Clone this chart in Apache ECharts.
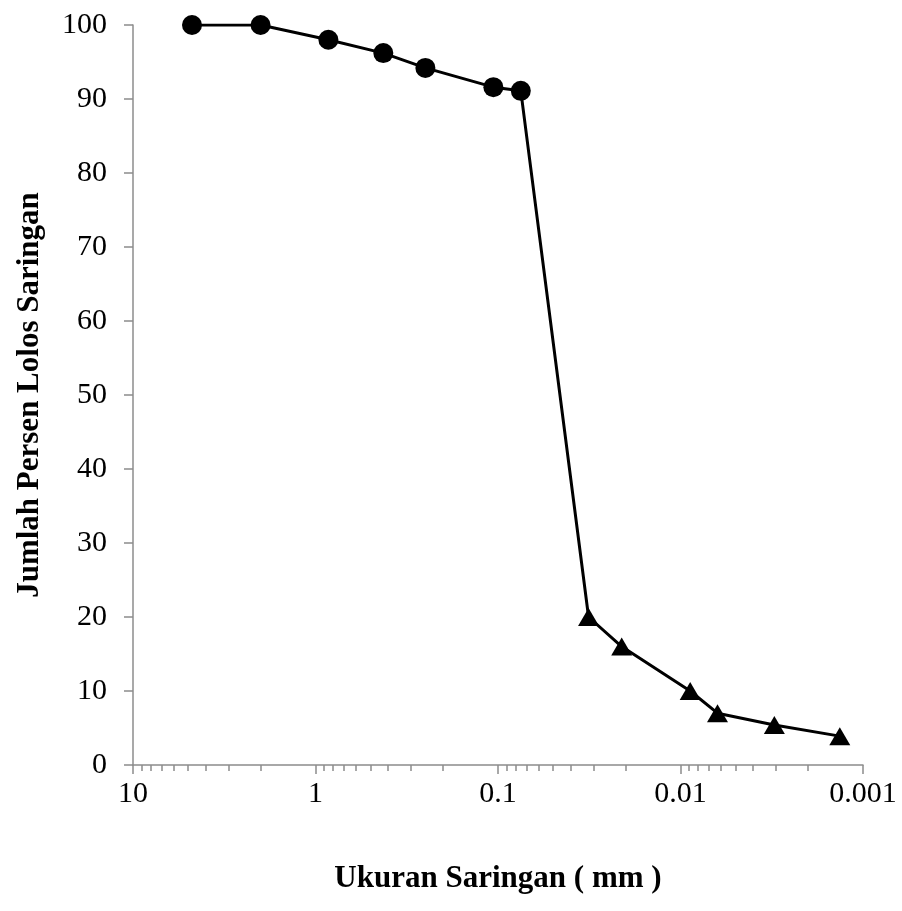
<!DOCTYPE html>
<html>
<head>
<meta charset="utf-8">
<script src="https://cdn.jsdelivr.net/npm/echarts@6/dist/echarts.min.js"></script>
<style>
html,body{margin:0;padding:0;background:#fff;}
#chart{width:902px;height:911px;}
</style>
</head>
<body>
<div id="chart"></div>
<script>
// Sieve analysis (circles)
const sieveSize = [4.75, 2.0, 0.85, 0.425, 0.25, 0.106, 0.075];
const sievePassing = [100, 100, 98, 96.2, 94.2, 91.6, 91.1];
// Hydrometer analysis (triangles)
const hydroSize = [0.0319, 0.0210, 0.00885, 0.00627, 0.00306, 0.00134];
const hydroPassing = [20, 16, 10, 7, 5.4, 3.9];
// Axis ticks
const yTicks = [0, 10, 20, 30, 40, 50, 60, 70, 80, 90, 100];
const xMajor = [10, 1, 0.1, 0.01, 0.001];
const xMinorMultipliers = [2, 3, 4, 5, 6, 7, 8, 9];

const xTitle = 'Ukuran Saringan ( mm )';
const yTitle = 'Jumlah Persen Lolos Saringan';

const serif = '"Liberation Serif", "Times New Roman", serif';
const axisGray = '#8c8c8c';

const minorPositions = [];
for (let e = -3; e < 1; e++) {
  xMinorMultipliers.forEach(m => minorPositions.push(Math.log10(m) + e));
}

const data = sieveSize.map((s, i) => ({ value: [s, sievePassing[i]], symbol: 'circle', symbolSize: 20 }))
  .concat(hydroSize.map((s, i) => ({ value: [s, hydroPassing[i]], symbol: 'triangle', symbolSize: [21, 18] })));

const chart = echarts.init(document.getElementById('chart'), null, { renderer: 'canvas' });
chart.setOption({
  animation: false,
  backgroundColor: '#fff',
  grid: { left: 133, right: 39, top: 25, bottom: 146, containLabel: false },
  xAxis: [{
    type: 'log',
    logBase: 10,
    min: 0.001,
    max: 10,
    inverse: true,
    position: 'bottom',
    name: xTitle,
    nameLocation: 'middle',
    nameGap: 98,
    nameTextStyle: { fontFamily: serif, fontSize: 31, fontWeight: 'bold', color: '#000' },
    axisLine: { show: true, onZero: false, lineStyle: { color: axisGray, width: 1.5 } },
    axisTick: { show: true, inside: false, length: 9, lineStyle: { color: axisGray, width: 1.5 }, customValues: xMajor },
    axisLabel: { show: true, margin: 14, fontFamily: serif, fontSize: 30, color: '#000', customValues: xMajor,
      formatter: v => String(+Number(v).toPrecision(6)) },
    splitLine: { show: false },
    minorTick: { show: false }
  }, {
    type: 'value',
    min: -3,
    max: 1,
    inverse: true,
    position: 'bottom',
    offset: 0,
    axisLine: { show: false, onZero: false },
    axisTick: { show: true, length: 6, lineStyle: { color: axisGray, width: 1.5 }, customValues: minorPositions },
    axisLabel: { show: false },
    splitLine: { show: false }
  }],
  yAxis: {
    type: 'value',
    min: 0,
    max: 100,
    interval: 10,
    name: yTitle,
    nameLocation: 'middle',
    nameGap: 88,
    nameTextStyle: { fontFamily: serif, fontSize: 31, fontWeight: 'bold', color: '#000' },
    axisLine: { show: true, onZero: false, lineStyle: { color: axisGray, width: 1.5 } },
    axisTick: { show: true, inside: false, length: 9, lineStyle: { color: axisGray, width: 1.5 } },
    axisLabel: { margin: 26, fontFamily: serif, fontSize: 30, color: '#000', customValues: yTicks },
    splitLine: { show: false }
  },
  series: [{
    type: 'line',
    xAxisIndex: 0,
    data: data,
    lineStyle: { color: '#000', width: 3 },
    itemStyle: { color: '#000', borderWidth: 0 },
    showAllSymbol: true,
    z: 5
  }]
});
</script>
</body>
</html>
